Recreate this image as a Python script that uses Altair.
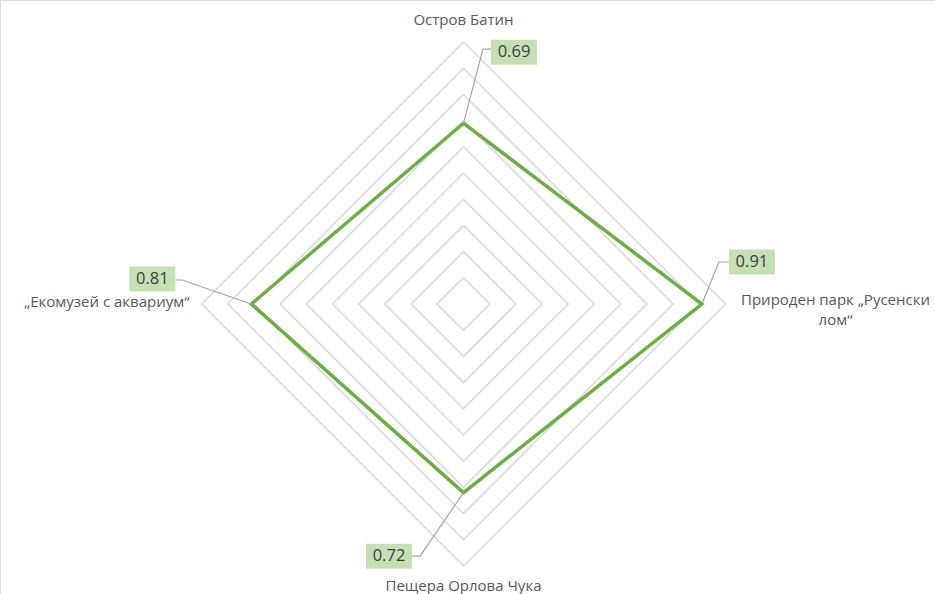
import math
import altair as alt
import pandas as pd

# ---- data ----
categories = ["Остров Батин", "Природен парк „Русенски\nлом“", "Пещера Орлова Чука", "„Екомузей с аквариум“"]
values = [0.69, 0.91, 0.72, 0.81]
value_labels = ["0.69", "0.91", "0.72", "0.81"]
grid_levels = [0.1, 0.2, 0.3, 0.4, 0.5, 0.6, 0.7, 0.8, 0.9, 1.0]

# ---- layout (pixels) ----
W, H = 935, 594
CX, CY = 463.5, 304.0
R = 262.0
angles = [90, 0, -90, 180]  # top, right, bottom, left (degrees, math convention)

XD = [-CX / R, (W - CX) / R]
YD = [-(H - CY) / R, CY / R]
xs = alt.Scale(domain=XD, nice=False, zero=False)
ys = alt.Scale(domain=YD, nice=False, zero=False)


def px(dx):
    return dx / R


def py(dy):
    return -dy / R


def pt(r, a):
    return r * math.cos(math.radians(a)), r * math.sin(math.radians(a))


# grid rings
grid_rows = []
for lv in grid_levels:
    for i, a in enumerate(angles + [angles[0]]):
        x, y = pt(lv, a)
        grid_rows.append({"ring": lv, "ord": i, "x": x, "y": y})
grid_df = pd.DataFrame(grid_rows)

# series
ser_rows = []
for i, (v, a) in enumerate(zip(values + [values[0]], angles + [angles[0]])):
    x, y = pt(v, a)
    ser_rows.append({"ord": i, "x": x, "y": y})
ser_df = pd.DataFrame(ser_rows)

# value label positions: offsets from data point (pixels)
lab_off = [(50.5, -71), (50, -42), (-74.5, 63.5), (-99, -25)]
# leader: elbow and box-edge offsets relative to label centre (pixels)
leader = [((-31, -3), (-23, -3)), ((-33, 0), (-23, 0)), ((31, 0), (23, 0)), ((30, 1), (23, 1))]
BW, BH = 46, 25

lab_rows, box_rows, lead_rows = [], [], []
for i, (v, a, t) in enumerate(zip(values, angles, value_labels)):
    x, y = pt(v, a)
    lx, ly = x + px(lab_off[i][0]), y + py(lab_off[i][1])
    lab_rows.append({"x": lx, "y": ly, "t": t})
    box_rows.append({"x": lx - px(BW / 2), "x2": lx + px(BW / 2),
                     "y": ly - px(BH / 2), "y2": ly + px(BH / 2)})
    (ex, ey), (bx, by) = leader[i]
    pts = [(x, y), (lx + px(ex), ly + py(ey)), (lx + px(bx), ly + py(by))]
    for j, (qx, qy) in enumerate(pts):
        lead_rows.append({"k": i, "ord": j, "x": qx, "y": qy})
lab_df = pd.DataFrame(lab_rows)
box_df = pd.DataFrame(box_rows)
lead_df = pd.DataFrame(lead_rows)

# category labels
cat_off = [(0, -284, "center"), (372, -4, "center"), (0, 282, "center"), (-274, -2, "right")]
cat_rows = []
for i, (c, a) in enumerate(zip(categories, angles)):
    dx, dy, al = cat_off[i]
    cat_rows.append({"x": px(dx), "y": py(dy), "t": c, "al": al})
cat_df = pd.DataFrame(cat_rows)

FONT = "Open Sans"

grid = alt.Chart(grid_df).mark_line(color="#d9d9d9", strokeWidth=1.5).encode(
    x=alt.X("x:Q", scale=xs, axis=None),
    y=alt.Y("y:Q", scale=ys, axis=None),
    detail="ring:N",
    order="ord:Q",
)

series = alt.Chart(ser_df).mark_line(color="#70ad47", strokeWidth=3.5, strokeJoin="miter").encode(
    x=alt.X("x:Q", scale=xs, axis=None),
    y=alt.Y("y:Q", scale=ys, axis=None),
    order="ord:Q",
)

leads = alt.Chart(lead_df).mark_line(color="#a6a6a6", strokeWidth=1.2).encode(
    x=alt.X("x:Q", scale=xs, axis=None),
    y=alt.Y("y:Q", scale=ys, axis=None),
    detail="k:N",
    order="ord:Q",
)

boxes = alt.Chart(box_df).mark_rect(color="#c5e0b4").encode(
    x=alt.X("x:Q", scale=xs, axis=None),
    x2="x2:Q",
    y=alt.Y("y:Q", scale=ys, axis=None),
    y2="y2:Q",
)

vals = alt.Chart(lab_df).mark_text(font=FONT, fontSize=16.5, color="#404040", baseline="middle").encode(
    x=alt.X("x:Q", scale=xs, axis=None),
    y=alt.Y("y:Q", scale=ys, axis=None),
    text="t:N",
)

cat_layers = []
for al in ["center", "right"]:
    cat_layers.append(
        alt.Chart(cat_df[cat_df["al"] == al]).mark_text(
            font=FONT, fontSize=15, color="#595959", baseline="middle", align=al, lineBreak="\n", lineHeight=20
        ).encode(
            x=alt.X("x:Q", scale=xs, axis=None),
            y=alt.Y("y:Q", scale=ys, axis=None),
            text="t:N",
        )
    )

chart = alt.layer(grid, series, leads, boxes, vals, *cat_layers).properties(
    width=W, height=H, padding=0, autosize=alt.AutoSizeParams(type="none")
).configure_view(stroke=None).configure(background="white")

chart.save("out.html", embed_options={"renderer": "svg", "actions": False})
